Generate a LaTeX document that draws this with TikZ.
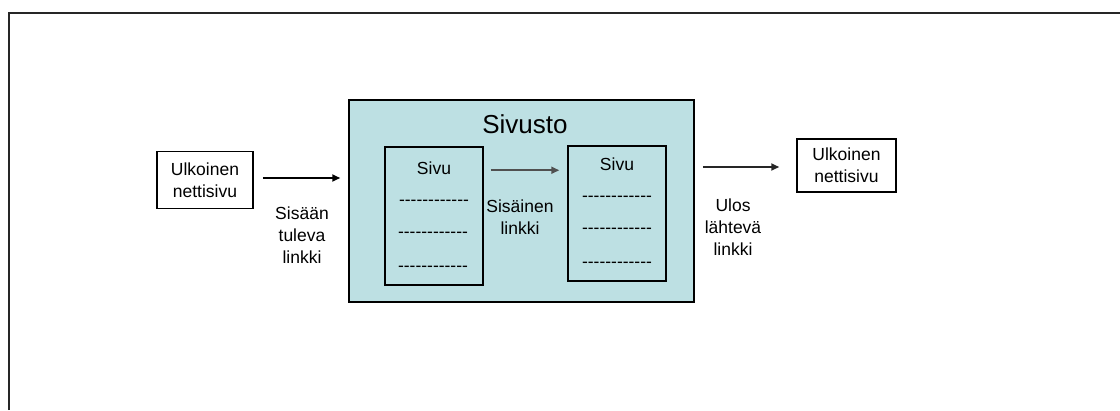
\documentclass[tikz,border=0pt]{standalone}
\usepackage{fontspec}
\setmainfont{Liberation Sans}
\usetikzlibrary{arrows.meta,calc}
\definecolor{sitefill}{RGB}{189,224,227}
\definecolor{linkgray}{RGB}{80,80,80}
% a row of plain hyphens, kept apart so they do not join into dashes
\newcommand{\hyphenrow}{-{}-{}-{}-{}-{}-{}-{}-{}-{}-{}-{}-}
\tikzset{
  box/.style={draw=black, line width=1.5pt, rectangle, inner sep=0pt},
  lbl/.style={align=center, inner sep=0pt, font=\fontsize{17.5}{22}\selectfont},
  arr/.style={line width=1.7pt, -{Triangle[length=8pt,width=7pt]}},
  dashline/.style={inner sep=0pt, font=\fontsize{17.5}{22}\selectfont}
}
\begin{document}
\begin{tikzpicture}[x=1pt,y=-1pt]
\useasboundingbox (0,0) rectangle (1120,410);
% outer frame (left and top edges)
\draw[line width=1.6pt, black!85] (9,410) -- (9,13) -- (1120,13);

% external page on the left
\node[box, minimum width=96pt, minimum height=57pt] (lbox) at (205,180) {};
\node[lbl] (ltext) at (lbox) {Ulkoinen\\nettisivu};

% the site
\node[box, fill=sitefill, minimum width=345pt, minimum height=202pt] (site) at (521.5,201) {};
\node[inner sep=0pt, font=\fontsize{26}{30}\selectfont] (sitetitle) at (525,124) {Sivusto};

% first page
\node[box, minimum width=98pt, minimum height=138pt] (p1) at (434,216) {};
\node[lbl] (p1title) at (434,168) {Sivu};
\node[dashline] (p1a) at (434,203) {\hyphenrow};
\node[dashline] (p1b) at (433,235) {\hyphenrow};
\node[dashline] (p1c) at (433,269) {\hyphenrow};

% second page
\node[box, minimum width=98pt, minimum height=135pt] (p2) at (617,213.5) {};
\node[lbl] (p2title) at (617,164) {Sivu};
\node[dashline] (p2a) at (617,199) {\hyphenrow};
\node[dashline] (p2b) at (617,231) {\hyphenrow};
\node[dashline] (p2c) at (617,265) {\hyphenrow};

% external page on the right
\node[box, minimum width=99pt, minimum height=53pt] (rbox) at (846.5,165.5) {};
\node[lbl] (rtext) at (rbox) {Ulkoinen\\nettisivu};

% links
\draw[arr] ($(lbox.east)+(9,-2)$) -- ($(site.west |- lbox.east)+(-8,-2)$);
\draw[arr, linkgray] ($(p1.north east)+(7,24)$) -- ($(p2.north west)+(-8,25)$);
\draw[arr, black!85] ($(site.east |- rbox.east)+(8,1.5)$) -- ($(rbox.west)+(-17,1.5)$);

% link labels
\node[lbl] (inlabel) at (302,235) {Sisään\\tuleva\\linkki};
\node[lbl] (intlabel) at (520,217) {Sisäinen\\linkki};
\node[lbl] (outlabel) at (733,227) {Ulos\\lähtevä\\linkki};
\end{tikzpicture}
\end{document}
